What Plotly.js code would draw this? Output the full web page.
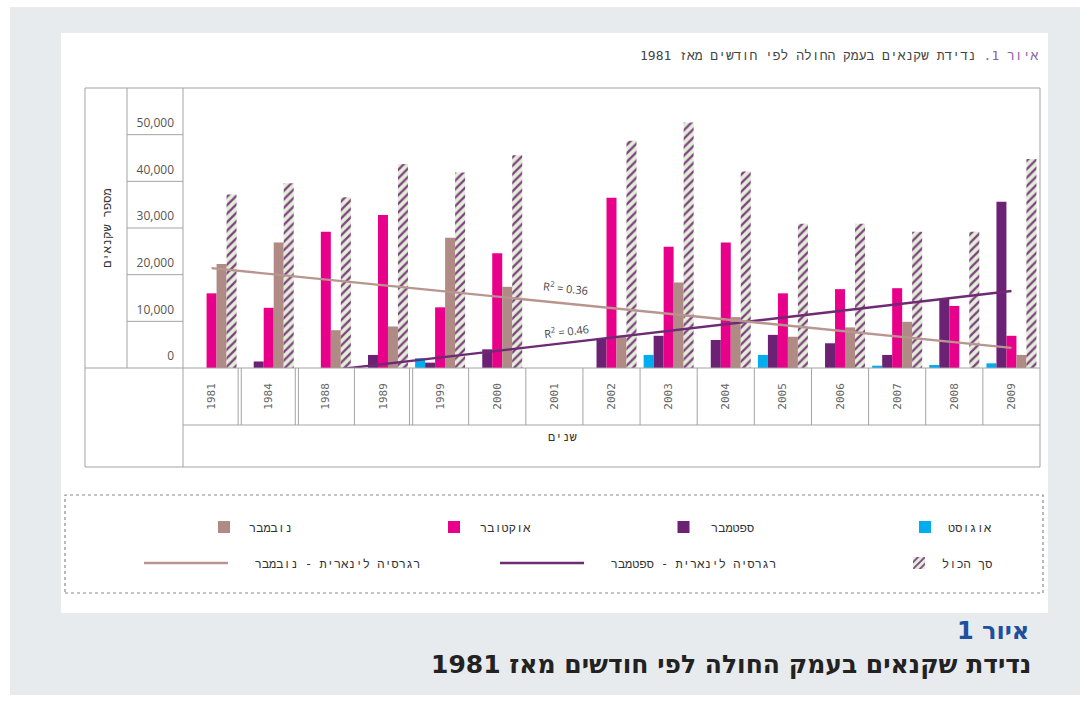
<!DOCTYPE html>
<html><head><meta charset="utf-8">
<script src="https://cdn.plot.ly/plotly-3.0.1.min.js"></script>
<style>html,body{margin:0;padding:0;background:#ffffff;} #chart{width:1090px;height:702px;}</style>
</head><body><div id="chart"></div>
<script>
// ---- data ----
const years = ['1981','1984','1988','1989','1999','2000','2001','2002','2003','2004','2005','2006','2007','2008','2009'];
const august    = [null,null,null,null,2100,null,null,null,2800,null,2800,null,500,640,1000];
const september = [null,1400,null,2800,1150,4000,null,6400,6900,6000,7100,5300,2800,14800,35600];
const october   = [16000,12900,29200,32800,13000,24600,null,36500,26000,26900,16000,16900,17100,13300,6900];
const november  = [22300,26900,8100,8900,27900,17400,null,6900,18300,10900,6700,8700,9900,null,2800];
const total     = [37200,39600,36600,43700,41900,45600,null,48700,52600,42100,30900,30900,29200,29200,44800];
const trendYears = ['1981','2009'];
const trendNovember  = [21400, 4300];
const trendSeptember = [-3450, 16500];
const yTicks = [0,10000,20000,30000,40000,50000];
const r2November = '0.36', r2September = '0.46';

const names = {
  aug:'אוגוסט', sep:'ספטמבר', oct:'אוקטובר', nov:'נובמבר', tot:'סך הכול',
  regSep:'רגרסיה לינארית - ספטמבר', regNov:'רגרסיה לינארית - נובמבר'
};
const colors = {aug:'#00aeef', sep:'#6b2274', oct:'#e8008a', nov:'#b08a84', regNov:'#b8958f', regSep:'#6e2a74'};

// ---- geometry helpers (pixel -> paper) ----
const W=1090, H=702, L=183, R=1040, T=88, B=368;
const px = x => (x-L)/(R-L);
const py = y => (B-y)/(B-T);

const MONO = 'DejaVu Sans Mono, Liberation Mono, DejaVu Sans, monospace';
const HEBW = 'DejaVu Sans, Liberation Sans, sans-serif';
const NUM = 'Open Sans, DejaVu Sans, sans-serif';
const PAD = '\u00a0\u00a0\u00a0';

function bar(y, key, legend){
  return {type:'bar', x:years, y:y, name:names[key], legend:legend,
    marker:{color:colors[key], line:{width:0}}, hoverinfo:'x+y'};
}
const traces = [
  bar(august,'aug','legend'),
  bar(september,'sep','legend2'),
  bar(october,'oct','legend3'),
  bar(november,'nov','legend4'),
  {type:'bar', x:years, y:total, name:names.tot, legend:'legend5',
   marker:{color:'#dce9d0', line:{width:0},
     pattern:{shape:'/', fgcolor:'#7f4380', bgcolor:'#e3eed9', size:6, solidity:0.38}}},
  {type:'scatter', mode:'lines', x:trendYears, y:trendSeptember, name:PAD+names.regSep, legend:'legend6',
   line:{color:colors.regSep, width:2.4}},
  {type:'scatter', mode:'lines', x:trendYears, y:trendNovember, name:PAD+names.regNov, legend:'legend7',
   line:{color:colors.regNov, width:2.4}}
];

function leg(xRight, yMid, iw){
  return {x:px(xRight), y:py(yMid), xanchor:'right', yanchor:'middle', bgcolor:'rgba(0,0,0,0)',
    borderwidth:0, font:{family:MONO, size:12, color:'#333'}, itemwidth:iw||30, tracegroupgap:0};
}

const lineC = '#a3a3a3';
const shapes = [];
// grey page band and white panel
shapes.push({type:'rect', xref:'paper', yref:'paper', x0:px(10), x1:px(1080), y0:py(695), y1:py(7), fillcolor:'#e8ebee', line:{width:0}, layer:'below'});
shapes.push({type:'rect', xref:'paper', yref:'paper', x0:px(61), x1:px(1048), y0:py(613), y1:py(33), fillcolor:'#ffffff', line:{width:0}, layer:'below'});
// frame
const seg = (x0,y0,x1,y1) => ({type:'line', xref:'paper', yref:'paper', x0:px(x0), x1:px(x1), y0:py(y0), y1:py(y1), line:{color:lineC, width:1}});
shapes.push({type:'rect', xref:'paper', yref:'paper', x0:px(85), x1:px(1040), y0:py(467), y1:py(88), line:{color:lineC, width:1}});
shapes.push(seg(127,88,127,368));
shapes.push(seg(183,88,183,467));
shapes.push(seg(85,368,1040,368));
shapes.push(seg(183,425,1040,425));
// y tick cells
yTicks.filter(v=>v>0).forEach(v=>shapes.push({type:'line', xref:'paper', yref:'y', x0:px(127), x1:0, y0:v, y1:v, line:{color:lineC, width:1}}));
// category separators (double where years are not consecutive)
for(let i=1;i<years.length;i++){
  const gap = (+years[i]) - (+years[i-1]) > 1;
  const offs = gap ? [-0.035, 0.02] : [0];
  offs.forEach(o=>shapes.push({type:'line', xref:'x', yref:'paper', x0:i-0.5+o, x1:i-0.5+o, y0:0, y1:py(425), line:{color:lineC, width:1}}));
}
// legend box
shapes.push({type:'rect', xref:'paper', yref:'paper', x0:px(65), x1:px(1043), y0:py(593), y1:py(495), line:{color:'#8a8a8a', width:1.2, dash:'dot'}});

const annotations = [
  {xref:'paper', yref:'paper', x:px(562), y:py(446), text:'שנים', showarrow:false, font:{family:MONO, size:12, color:'#333'}},
  {xref:'x', yref:'y', x:6.2, y:17100, text:'R<sup>2</sup> = '+r2November, textangle:5.7, showarrow:false, font:{family:NUM, size:11, color:'#444'}},
  {xref:'x', yref:'y', x:6.22, y:7900, text:'R<sup>2</sup> = '+r2September, textangle:-6.6, showarrow:false, font:{family:NUM, size:11, color:'#444'}},
  {xref:'paper', yref:'paper', x:px(1031), y:py(631), xanchor:'right', yanchor:'middle', text:'<b>איור 1</b>', showarrow:false, font:{family:HEBW, size:24, color:'#1f4f9f'}},
  {xref:'paper', yref:'paper', x:px(1033), y:py(664), xanchor:'right', yanchor:'middle', text:'<b>נדידת שקנאים בעמק החולה לפי חודשים מאז 1981</b>', showarrow:false, font:{family:HEBW, size:25, color:'#222'}}
];

const layout = {
  width:W, height:H,
  margin:{l:L, r:W-R, t:T, b:H-B, pad:0},
  paper_bgcolor:'#ffffff', plot_bgcolor:'rgba(0,0,0,0)',
  barmode:'group', bargap:0.125, bargroupgap:0,
  title:{text:"<span style='color:#8a62a6'>איור 1.</span> נדידת שקנאים בעמק החולה לפי חודשים מאז 1981",
    xref:'paper', x:0.998, xanchor:'right', yref:'container', y:1-55/H, yanchor:'middle',
    font:{family:MONO, size:13, color:'#444'}},
  xaxis:{type:'category', range:[-0.5, years.length-0.5], tickangle:-90, ticks:'', showline:false, showgrid:false, zeroline:false,
    ticklabelstandoff:12, tickfont:{family:MONO, size:11, color:'#666'}, fixedrange:true},
  yaxis:{range:[0,60000], tickvals:yTicks, tickformat:',', ticks:'', showline:false, showgrid:false, zeroline:false,
    ticklabelshift:-12, ticklabelstandoff:8, tickfont:{family:NUM, size:12, color:'#555'},
    title:{text:'מספר שקנאים', standoff:22, font:{family:MONO, size:12, color:'#333'}}, fixedrange:true},
  showlegend:true,
  legend: leg(998,527,36),
  legend2: leg(760,527,45),
  legend3: leg(537,527,42),
  legend4: leg(298,527,40),
  legend5: leg(998,563,36),
  legend6: leg(782,563,84),
  legend7: leg(426,563,84),
  shapes:shapes, annotations:annotations
};

Plotly.newPlot('chart', traces, layout, {displayModeBar:false});
</script></body></html>
